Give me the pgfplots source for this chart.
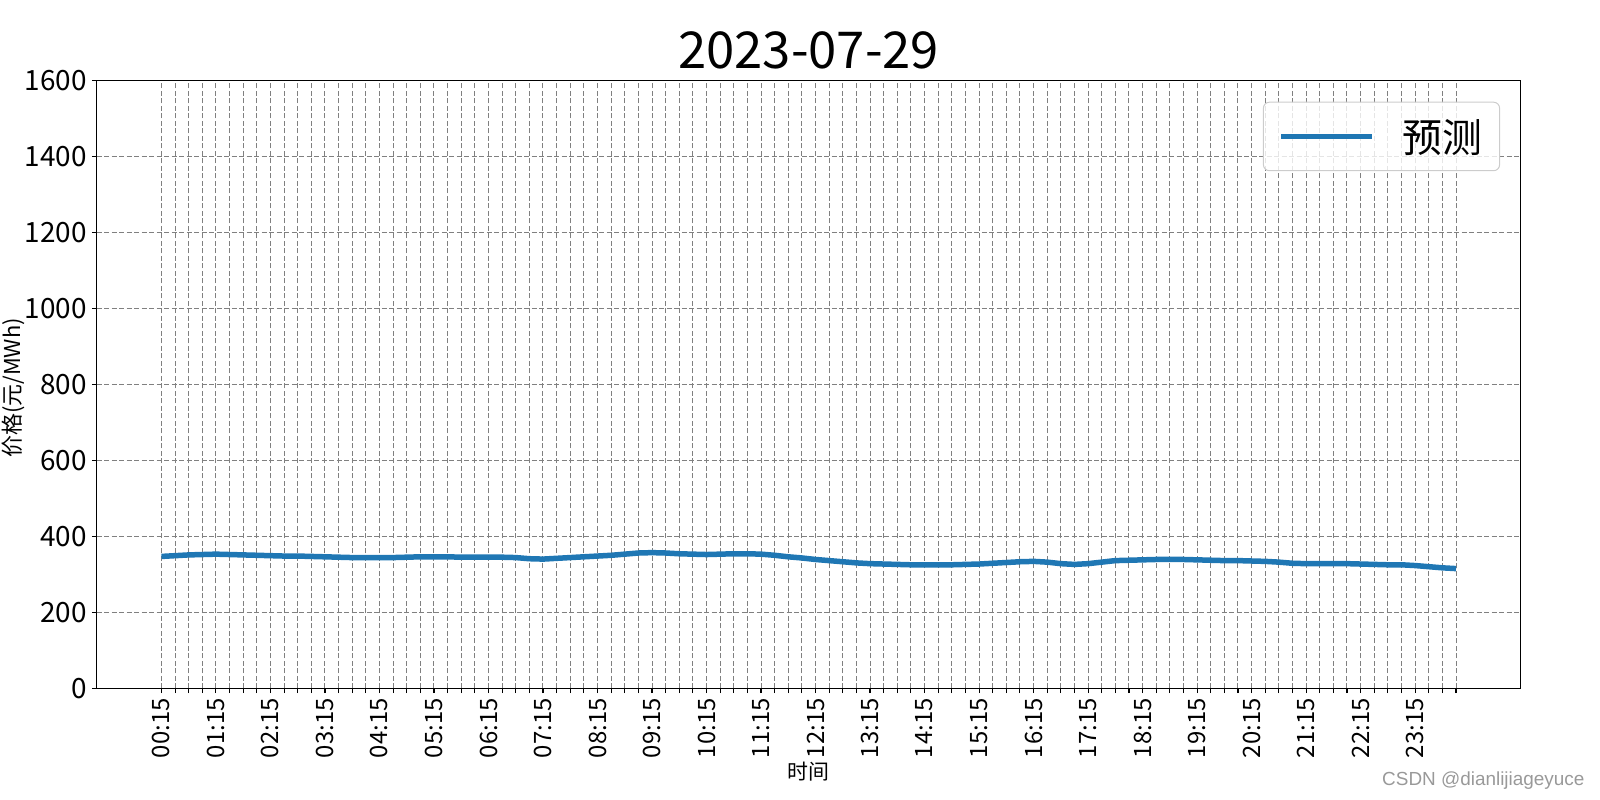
\documentclass[border=0pt]{standalone}
\usepackage{fontspec}
\setmainfont{Noto Sans CJK SC}
\newfontfamily\wmfont{Liberation Sans}
\usepackage{pgfplots}
\usepackage{pgfplotstable}
\pgfplotsset{compat=1.18}
\definecolor{tabblue}{HTML}{1F77B4}
\definecolor{gridgray}{HTML}{808080}
\definecolor{legborder}{HTML}{CCCCCC}

\pgfplotstableread{
i v
0 347
1 349
2 351
3 352
4 353
5 352
6 351
7 350
8 349
9 348
10 348
11 347
12 346
13 345
14 344
15 344
16 344
17 344
18 345
19 346
20 346
21 346
22 345
23 345
24 345
25 345
26 344
27 341
28 340
29 342
30 344
31 346
32 348
33 350
34 353
35 356
36 357
37 356
38 354
39 353
40 352
41 353
42 354
43 354
44 353
45 350
46 346
47 343
48 339
49 336
50 333
51 330
52 328
53 327
54 326
55 325
56 325
57 325
58 325
59 326
60 327
61 329
62 331
63 333
64 334
65 332
66 328
67 326
68 328
69 332
70 336
71 337
72 338
73 339
74 339
75 339
76 338
77 337
78 336
79 336
80 335
81 334
82 332
83 329
84 328
85 328
86 328
87 328
88 327
89 326
90 325
91 325
92 323
93 320
94 317
95 315
}\pricedata

\begin{document}
\begin{tikzpicture}[x=1bp,y=1bp]
\useasboundingbox (0,0) rectangle (1600,800);
\begin{axis}[
  at={(96.7bp,111.7bp)}, anchor=south west,
  scale only axis, width=1424bp, height=608bp,
  xmin=-4.75, xmax=99.75, ymin=0, ymax=1600,
  ytick={0,200,...,1600},
  xtick={0,...,95},
  xticklabels={00:15,,,,01:15,,,,02:15,,,,03:15,,,,04:15,,,,05:15,,,,06:15,,,,07:15,,,,08:15,,,,09:15,,,,10:15,,,,11:15,,,,12:15,,,,13:15,,,,14:15,,,,15:15,,,,16:15,,,,17:15,,,,18:15,,,,19:15,,,,20:15,,,,21:15,,,,22:15,,,,23:15,,,},
  x tick label style={rotate=90, anchor=east, font=\fontsize{24}{24}\selectfont, inner sep=0pt},
  y tick label style={font=\fontsize{28}{28}\selectfont, inner sep=0pt},
  xticklabel shift=5bp, yticklabel shift=5bp,
  /pgf/number format/.cd, 1000 sep={}, assume math mode=true, /pgfplots/.cd,
  scaled ticks=false,
  grid=major,
  major grid style={gridgray, dash pattern=on 5bp off 2.5bp, line width=1bp},
  tick align=outside, major tick length=4.9bp,
  tick style={black, line width=1.1bp},
  xtick pos=bottom, ytick pos=left,
  axis line style={line width=1.1bp},
  legend style={at={(0.9855,0.9648)}, anchor=north east, draw=legborder, fill=white, fill opacity=0.8, text opacity=1, rounded corners=6bp, line width=1bp, font=\fontsize{40}{40}\selectfont, inner xsep=15bp, inner ysep=15bp},
  legend image code/.code={\draw[#1, line width=5.5bp] (0bp,0bp) -- (91bp,0bp);},
  legend cell align=left,
]
\addplot[tabblue, line width=5.5bp, no markers] table[x=i, y=v] {\pricedata};
\addlegendentry{\hspace{26bp}预测}
\end{axis}
\node[anchor=base, font=\fontsize{51}{51}\selectfont] at (808.7,731) {2023-07-29};
\node[font=\fontsize{21}{21}\selectfont] at (808.7,28) {时间};
\node[rotate=90, font=\fontsize{22}{22}\selectfont] at (13,412) {价格(元/MWh)};
\node[anchor=east, font=\wmfont\fontsize{19}{19}\selectfont, text=gray!80] at (1588,19) {CSDN @dianlijiageyuce};
\end{tikzpicture}
\end{document}
